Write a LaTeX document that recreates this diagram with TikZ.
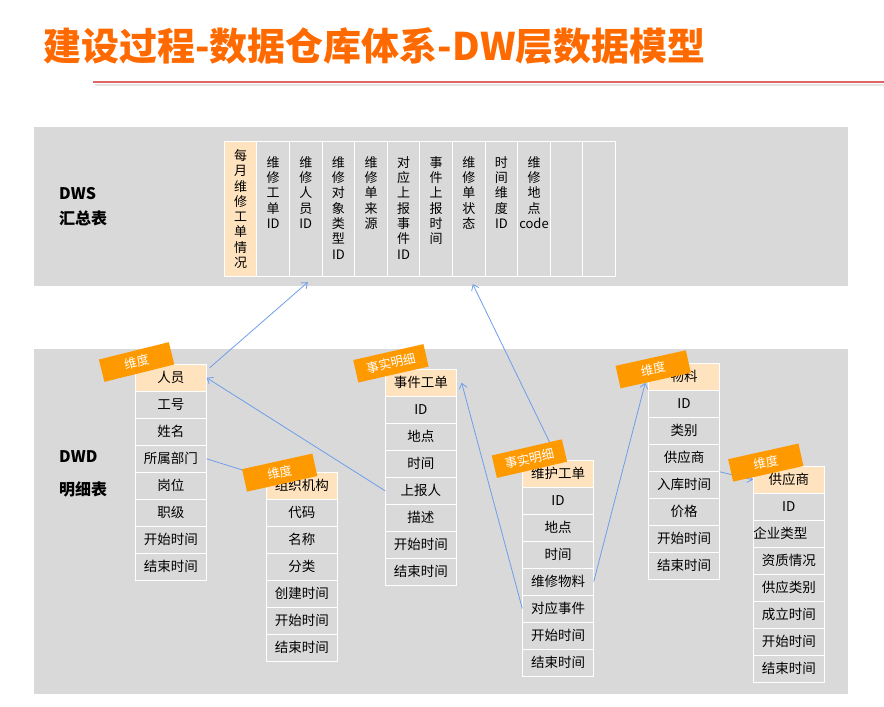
\documentclass[tikz,border=0pt]{standalone}
\usepackage{fontspec}
\setmainfont{Noto Sans CJK SC}
\usetikzlibrary{positioning, arrows.meta}

\definecolor{bandgray}{HTML}{D9D9D9}
\definecolor{headfill}{HTML}{FFE3BF}
\definecolor{tagorange}{HTML}{FF9900}
\definecolor{titleorange}{HTML}{FF6A00}
\definecolor{linkblue}{HTML}{6D9EEB}
\definecolor{rulered}{HTML}{E06666}

\begin{document}
\begin{tikzpicture}[
    x=1pt, y=-1pt,
    >={Straight Barb[length=5pt,width=8pt]},
    cell/.style={draw=white, line width=1pt, fill=bandgray, minimum width=70.5pt, minimum height=27pt, inner sep=0pt, font=\fontsize{13.5}{16}\selectfont},
    head/.style={cell, fill=headfill},
    col/.style={draw=white, line width=1pt, fill=bandgray, minimum width=32.6pt, minimum height=135pt, inner sep=0pt},
    coltext/.style={anchor=north, align=center, inner sep=0pt, font=\fontsize{13}{15.3}\selectfont},
    tag/.style={fill=tagorange, text=white, minimum width=72pt, minimum height=23pt, inner sep=0pt, font=\fontsize{12.5}{14}\selectfont},
    link/.style={->, draw=linkblue, line width=0.8pt},
    layer/.style={anchor=west, inner sep=0pt, font=\fontsize{16}{18}\selectfont\bfseries}
]
    \useasboundingbox (0,0) rectangle (884,707);

    % Title and rule
    \node[anchor=west, inner sep=0pt, text=titleorange, font=\fontsize{38}{42}\selectfont\bfseries] (title) at (43,46) {建设过程-数据仓库体系-DW层数据模型};
    \draw[black!10, line width=2pt] (95,85) -- (884,85);
    \draw[rulered, line width=1.5pt] (93,82) -- (884,82);

    % Layers
    \fill[bandgray] (34,127) rectangle (848,286);
    \fill[bandgray] (34,349) rectangle (848,694);
    \node[layer] (dws) at (59,194) {DWS};
    \node[layer] (dwsz) at (59,218) {汇总表};
    \node[layer] (dwd) at (59,457) {DWD};
    \node[layer] (dwdz) at (59,489) {明细表};

    % DWS columns
    \node[col, fill=headfill] (c1) at (240.6,209.2) {};
    \node[coltext] (t1) at ([yshift=-8pt]c1.north) {每\\月\\维\\修\\工\\单\\情\\况};
    \foreach \txt [count=\i from 2] in {{维\\修\\工\\单\\ID}, {维\\修\\人\\员\\ID}, {维\\修\\对\\象\\类\\型\\ID}, {维\\修\\单\\来\\源}, {对\\应\\上\\报\\事\\件\\ID}, {事\\件\\上\\报\\时\\间}, {维\\修\\单\\状\\态}, {时\\间\\维\\度\\ID}, {维\\修\\地\\点\\code}, {}, {}} {
        \node[col] (c\i) at ({224.3+32.6*\i-16.3},209.2) {};
        \node[coltext] (t\i) at ([yshift=-15pt]c\i.north) {\txt};
    }

    % DWD tables
    \node[head] (p1) at (170.9,377.8) {人员};
    \foreach \txt [count=\i from 2] in {工号,姓名,所属部门,岗位,职级,开始时间,结束时间}
        \node[cell] (p\i) at (170.9,{377.8+27*(\i-1)}) {\txt};

    \node[head] (o1) at (301.9,485.5) {组织机构};
    \foreach \txt [count=\i from 2] in {代码,名称,分类,创建时间,开始时间,结束时间}
        \node[cell] (o\i) at (301.9,{485.5+27*(\i-1)}) {\txt};

    \node[head] (e1) at (420.9,382.8) {事件工单};
    \foreach \txt [count=\i from 2] in {ID,地点,时间,上报人,描述,开始时间,结束时间}
        \node[cell] (e\i) at (420.9,{382.8+27*(\i-1)}) {\txt};

    \node[head] (w1) at (558,473.5) {维护工单};
    \foreach \txt [count=\i from 2] in {ID,地点,时间,维修物料,对应事件,开始时间,结束时间}
        \node[cell] (w\i) at (558,{473.5+27*(\i-1)}) {\txt};

    \node[head] (m1) at (684,376.8) {物料};
    \foreach \txt [count=\i from 2] in {ID,类别,供应商,入库时间,价格,开始时间,结束时间}
        \node[cell] (m\i) at (684,{376.8+27*(\i-1)}) {\txt};

    \node[head] (s1) at (788.8,479.8) {供应商};
    \foreach \txt [count=\i from 2] in {ID,{},资质情况,供应类别,成立时间,开始时间,结束时间}
        \node[cell] (s\i) at (788.8,{479.8+27*(\i-1)}) {\txt};
    \node[anchor=west, inner sep=0pt, font=\fontsize{13.5}{16}\selectfont] (s3t) at (s3.west) {企业类型};

    % Links
    \draw[link] ([xshift=3pt,yshift=-4pt]p1.north east) -- ([xshift=2pt,yshift=-5pt]c3.south);
    \draw[link] (w1.north) -- ([xshift=4pt,yshift=-7pt]c8.south);
    \draw[link] (e5.west) -- (p1.east);
    \draw[link] (p4.east) -- ([yshift=8pt]o1.west);
    \draw[link] (w6.west) -- ([xshift=5pt]e1.east);
    \draw[link] (w5.east) -- ([xshift=-3pt,yshift=-6pt]m1.west);
    \draw[link] (m4.south east) -- (s1.west);

    % Tags
    \node[tag, rotate=14] (tp) at (136.6,362) {维度};
    \node[tag, rotate=12.5] (to) at (279.7,472.6) {维度};
    \node[tag, rotate=12.8] (te) at (390.9,363.3) {事实明细};
    \node[tag, rotate=13] (tw) at (529.4,458.6) {事实明细};
    \node[tag, rotate=12.5] (tm) at (653.2,369.3) {维度};
    \node[tag, rotate=12.5] (ts) at (765.8,462.6) {维度};

\end{tikzpicture}
\end{document}
